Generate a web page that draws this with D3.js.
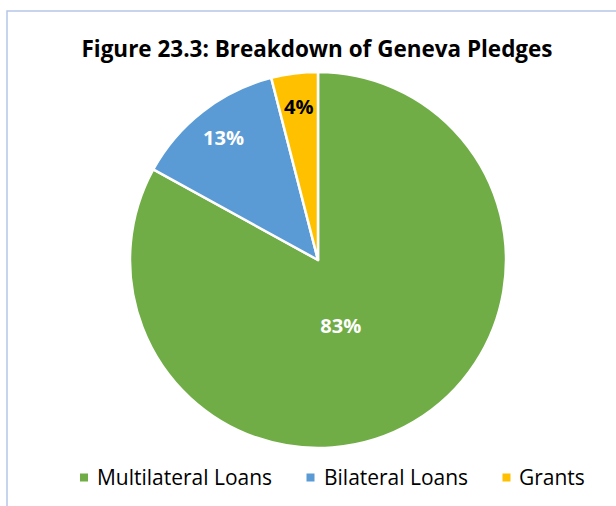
<!DOCTYPE html>
<html>
<head>
<meta charset="utf-8">
<script src="https://cdn.jsdelivr.net/npm/d3@7/dist/d3.min.js"></script>
<style>
  html, body { margin: 0; padding: 0; background: #fff; }
  svg { display: block; }
  text { font-family: "Open Sans", "Noto Sans", sans-serif; }
</style>
</head>
<body>
<svg id="chart" width="616" height="506"></svg>
<script>
// Geneva pledges, share of total (%)
const categories = ["Multilateral Loans", "Bilateral Loans", "Grants"];
const shares = [83, 13, 4];
const colors = ["#70AD47", "#5B9BD5", "#FFC000"];
const labelColors = ["#FFFFFF", "#FFFFFF", "#000000"];
const title = "Figure 23.3: Breakdown of Geneva Pledges";

const svg = d3.select("#chart");
const W = 616, H = 506;

// chart area frame
svg.append("rect")
  .attr("x", 7).attr("y", 11)
  .attr("width", W + 20).attr("height", H + 20)
  .attr("fill", "#fff")
  .attr("stroke", "#B4C7E7")
  .attr("stroke-width", 1.5);

// scale a text element's font size until it spans the wanted width
function fitWidth(sel, target) {
  const node = sel.node();
  let size = parseFloat(sel.attr("font-size"));
  for (let i = 0; i < 4; i++) {
    const w = node.getComputedTextLength();
    if (!w) break;
    size = size * target / w;
    sel.attr("font-size", size);
  }
  return size;
}

// title
const titleText = svg.append("text")
  .attr("x", 317).attr("y", 57)
  .attr("text-anchor", "middle")
  .attr("font-weight", "bold")
  .attr("font-size", 20)
  .attr("fill", "#000")
  .text(title);
fitWidth(titleText, 471);

// pie
const cx = 318, cy = 260, R = 188;
const data = categories.map((c, i) => ({ name: c, value: shares[i], color: colors[i], labelColor: labelColors[i] }));

const pie = d3.pie().value(d => d.value).sort(null);
const arcs = pie(data);
const arc = d3.arc().innerRadius(0).outerRadius(R);

const g = svg.append("g").attr("transform", `translate(${cx},${cy})`);
g.selectAll("path.slice")
  .data(arcs)
  .join("path")
  .attr("class", "slice")
  .attr("d", arc)
  .attr("fill", d => d.data.color)
  .attr("stroke", "#fff")
  .attr("stroke-width", 2.5)
  .attr("stroke-linejoin", "round");

// data labels: radial distance (fraction of radius) and angular nudge (radians)
const labelPlacement = [
  { r: 0.37, turn: 0.20 },
  { r: 0.82, turn: 0.0 },
  { r: 0.82, turn: 0.0 }
];
const labels = g.selectAll("text.lbl")
  .data(arcs)
  .join("text")
  .attr("class", "lbl")
  .each(function (d, i) {
    const p = labelPlacement[i];
    const a = (d.startAngle + d.endAngle) / 2 + p.turn;
    const rr = R * p.r;
    d3.select(this)
      .attr("x", Math.sin(a) * rr)
      .attr("y", -Math.cos(a) * rr)
      .attr("dy", "0.36em")
      .attr("text-anchor", "middle")
      .attr("font-weight", "bold")
      .attr("font-size", 18)
      .attr("fill", d.data.labelColor)
      .text(d3.format(".0f")(d.data.value) + "%");
  });
// size all labels from the width of the two-digit one
const lblSize = fitWidth(labels.filter((d, i) => i === 0), 41);
labels.attr("font-size", lblSize);

// legend
const legendItems = [
  { sq: 80, tx: 97, w: 175 },
  { sq: 306.5, tx: 324, w: 142 },
  { sq: 502.5, tx: 519, w: 63 }
];
const legend = svg.append("g");
const legendTexts = [];
data.forEach((d, i) => {
  legend.append("rect")
    .attr("x", legendItems[i].sq).attr("y", 473.5)
    .attr("width", 8).attr("height", 8)
    .attr("fill", d.color);
  const t = legend.append("text")
    .attr("x", legendItems[i].tx).attr("y", 484.5)
    .attr("font-size", 18)
    .attr("fill", "#000")
    .text(d.name);
  legendTexts.push(t);
});
// one common size for the legend, taken from the longest entry
const legSize = fitWidth(legendTexts[0], legendItems[0].w);
legendTexts.forEach(t => t.attr("font-size", legSize));
</script>
</body>
</html>
